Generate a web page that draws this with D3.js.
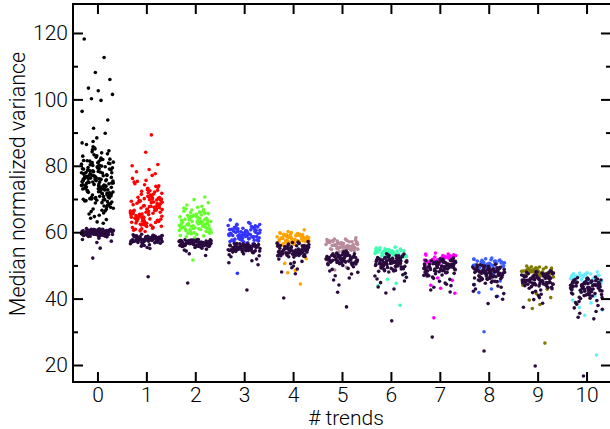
<!DOCTYPE html>
<html>
<head>
<meta charset="utf-8">
<script src="https://cdn.jsdelivr.net/npm/d3@7/dist/d3.min.js"></script>
<style>
  body { margin: 0; background: #fff; }
</style>
</head>
<body>
<div id="chart"></div>
<script>
// categories (# trends) and their colours
const trends = [0, 1, 2, 3, 4, 5, 6, 7, 8, 9, 10];
const trendColors = ["#000000", "#ff0000", "#66ff2e", "#3434ff", "#ffa200", "#b88a9c",
    "#3dffb0", "#ff00ff", "#3c5dff", "#7f7a00", "#66ecff"];
const baseColor = "#2a0b3e";

const yMajorTicks = [20, 40, 60, 80, 100, 120];
const yMinorTicks = [30, 50, 70, 90, 110];

// horizontal spread of each point inside its column (-1..1)
const jitter = [-0.82, 0.41, -0.13, 0.77, -0.56, 0.05, 0.93, -0.37, 0.22, -0.95, 0.64, -0.24, 0.48,
    -0.68, 0.11, 0.86, -0.47, 0.31, -0.04, 0.71, -0.88, 0.17, -0.61, 0.55, -0.29, 0.98, -0.15, 0.36,
    -0.76, 0.02, 0.67, -0.42, 0.26, -0.91, 0.59, -0.08, 0.81, -0.52, 0.14, -0.33, 0.45, -0.71, 0.89,
    -0.19, 0.07, -0.99, 0.38, -0.58, 0.74, -0.27, 0.52, -0.86, 0.28, -0.45, 0.96, -0.11, 0.62, -0.64,
    0.09, -0.39, 0.84, -0.21, 0.33, -0.79, 0.57, -0.02, 0.19, -0.93, 0.69, -0.31];

// coloured points (fit with n trends)
const trend0 = [118.2, 112.6, 108.1, 106.0, 103.4, 102.6, 101.5, 100.2, 99.7, 96.4, 93.8, 91.3, 89.8,
    86.4, 79.2, 73.5, 70.1, 77.8, 83.0, 68.4, 75.6, 81.7, 72.2, 66.9, 78.5, 74.8, 85.1, 69.7, 76.3, 80.9,
    71.4, 64.2, 79.9, 73.0, 77.1, 82.6, 67.5, 75.0, 70.8, 84.2, 72.9, 78.0, 69.1, 76.9, 81.2, 74.1, 65.8,
    79.5, 71.9, 87.3, 73.8, 77.5, 68.9, 80.3, 75.4, 70.4, 83.6, 72.6, 76.1, 66.2, 78.8, 74.4, 81.9, 69.4,
    77.3, 63.1, 75.9, 79.1, 71.1, 84.8, 73.2, 67.9, 76.7, 80.6, 72.0, 78.3, 74.9, 70.0, 82.3, 75.2, 68.1,
    77.0, 79.7, 73.6, 65.1, 76.5, 81.4, 71.6, 88.4, 74.6, 69.9, 78.1, 72.4, 75.8, 80.1, 67.2, 76.0, 62.7,
    73.3, 79.3, 70.6, 77.6, 83.9, 74.3, 71.8, 76.4, 68.6, 78.6, 75.1, 81.0, 72.7, 69.5, 77.9, 64.7, 74.0,
    80.5, 73.9, 76.8, 70.3, 85.7, 75.5, 79.0, 66.6,
    78.4, 72.1, 75.7, 69.2, 81.5, 74.5, 77.2, 70.9, 83.3, 73.4, 76.6, 67.7, 79.6, 72.5, 75.3, 80.8, 71.2,
    77.7, 74.2, 68.8, 82.0, 76.2, 73.1, 79.4, 70.5, 75.9, 86.9, 72.8, 78.2, 66.4, 74.7, 80.2, 71.5, 77.4,
    73.7, 69.6, 84.5, 76.0, 72.3, 78.7, 63.8, 75.1, 81.1, 70.2, 77.0, 74.0, 79.8, 68.3, 76.3, 73.0, 82.9,
    71.3, 75.5, 78.9, 65.5, 73.6, 80.4, 69.8, 76.8, 74.8, 85.4, 72.2, 77.9, 70.7, 75.2, 79.0, 67.0, 73.9,
    81.6, 71.7];
const trend1 = [89.3, 84.1, 80.4, 80.0, 78.9, 78.2, 77.6, 72.3, 66.8, 63.5, 69.9, 75.1, 61.7, 68.2, 64.9,
    71.0, 66.1, 73.8, 62.6, 67.4, 70.5, 65.3, 60.8, 69.1, 74.6, 63.9, 67.9, 72.8, 65.8, 61.2, 68.7, 70.2,
    64.3, 66.5, 76.2, 62.1, 69.5, 71.7, 63.1, 67.1, 65.0, 73.2, 60.4, 68.4, 64.6, 70.9, 66.3, 62.9, 75.6,
    67.7, 69.3, 63.6, 71.4, 65.6, 61.5, 68.0, 74.0, 64.1, 66.9, 70.0, 62.4, 72.5, 65.2, 69.7, 63.3, 67.5,
    60.9, 71.9, 66.0, 64.7, 68.9, 62.0, 73.5, 65.9, 70.7, 63.8, 67.2, 61.0, 69.0, 64.4, 77.1, 66.6, 62.7,
    68.6, 65.4, 71.2, 63.0, 67.0, 60.2, 70.4, 64.0, 66.2,
    67.3, 71.5, 64.2, 69.6, 62.3, 73.0, 66.4, 70.3, 63.4, 68.1, 65.5, 72.1, 61.4, 67.8, 69.2, 64.8, 74.3,
    66.7, 62.8, 70.8, 65.1, 68.5, 63.7, 71.1, 60.6, 67.6, 66.0, 69.8, 64.5, 72.6, 62.2, 68.3, 65.7, 70.1,
    63.2, 75.3, 66.9, 61.8, 69.4, 64.0];
const trend2 = [70.6, 69.8, 68.9, 68.2, 67.5, 64.1, 61.8, 66.3, 59.7, 63.2, 65.4, 60.5, 62.7, 67.0, 61.1,
    64.8, 58.9, 63.6, 66.0, 62.2, 60.1, 65.1, 61.5, 63.9, 59.3, 64.5, 62.0, 66.7, 60.8, 63.0, 65.7, 61.3,
    62.5, 59.0, 64.2, 60.3, 63.4, 67.8, 61.9, 62.9, 58.6, 65.3, 60.6, 63.7, 61.0, 64.6, 62.4, 59.5, 66.4,
    61.6, 63.1, 60.0, 65.0, 62.8, 58.3, 64.0, 61.2, 63.5, 60.9, 62.1, 65.9, 59.8, 51.6,
    63.3, 61.4, 64.9, 60.2, 62.6, 66.1, 61.7, 63.8, 59.9, 65.6, 62.3, 64.4, 60.7, 63.0, 67.3, 61.0, 64.7,
    59.4, 62.0, 65.2, 60.4, 63.6, 61.8, 66.8, 62.5, 64.1, 59.6, 63.2, 61.1, 65.8];
const trend3 = [63.7, 62.9, 62.4, 59.8, 58.2, 61.0, 57.3, 60.4, 58.9, 61.6, 57.8, 59.3, 60.9, 58.5, 57.0,
    60.1, 59.0, 61.9, 58.0, 59.6, 60.7, 57.5, 58.7, 61.3, 59.9, 58.3, 60.2, 56.8, 59.4, 61.1, 57.9, 58.6,
    60.5, 59.1, 57.4, 62.1, 58.1, 59.7, 60.0, 57.2, 58.8, 61.4, 56.5, 59.2, 60.6, 58.4, 62.6, 57.6, 59.5,
    60.3, 47.6,
    59.5, 60.8, 58.6, 61.2, 57.7, 59.9, 60.4, 58.2, 61.7, 59.0, 57.4, 60.1, 58.9, 62.0, 59.3, 57.9, 60.6,
    58.5, 61.5, 59.7, 58.0, 60.9, 62.3, 59.1, 57.6, 60.3, 58.7, 61.0, 59.6, 58.3];
const trend4 = [60.7, 60.2, 59.8, 59.4, 58.5, 57.2, 59.0, 56.4, 58.0, 57.6, 59.3, 56.9, 58.3, 57.0, 58.8,
    56.1, 57.8, 58.6, 57.4, 59.1, 56.7, 58.2, 57.1, 58.9, 56.5, 57.9, 58.4, 57.3, 59.5, 56.8, 58.1, 57.7,
    55.9, 58.7, 57.5, 56.3, 59.2, 57.9, 52.0, 50.6, 48.5, 47.8, 44.4,
    58.3, 57.5, 59.0, 56.9, 58.6, 57.2, 59.4, 58.0, 56.6, 58.8, 57.7, 59.6, 57.0, 58.4, 59.9, 57.4, 58.1,
    56.4, 59.2, 57.8, 58.7, 57.1, 59.7, 58.2, 57.6];
const trend5 = [58.3, 57.9, 57.5, 56.4, 55.2, 57.0, 54.6, 56.0, 55.7, 57.3, 54.9, 56.5, 55.1, 56.9, 54.3,
    55.9, 56.2, 55.5, 57.2, 54.7, 56.7, 55.3, 56.1, 54.5, 55.8, 57.1, 55.0, 56.6, 54.1, 55.6, 56.3, 53.8,
    57.4, 55.4, 56.8, 54.8, 51.0, 49.4, 48.6,
    56.3, 55.4, 57.1, 54.8, 56.6, 55.9, 57.6, 55.2, 56.0, 57.4, 54.6, 56.8, 55.6, 57.8, 56.2, 55.0, 57.0,
    55.8, 56.5, 54.4, 57.3, 55.5, 56.9, 56.1, 57.9];
const trend6 = [55.5, 55.2, 54.9, 53.8, 54.4, 53.1, 54.1, 52.7, 53.5, 54.6, 53.0, 54.0, 52.4, 53.6, 54.3,
    52.9, 53.3, 54.7, 52.2, 53.9, 53.2, 54.2, 52.6, 53.7, 54.5, 51.8, 53.4, 48.6, 47.3, 45.8, 44.6, 43.9, 38.0,
    54.0, 53.4, 54.6, 52.8, 53.9, 54.3, 53.1, 54.8, 52.5, 53.7, 54.4, 53.0, 55.0, 53.6, 54.1, 52.3, 54.7,
    53.3, 55.3, 53.8];
const trend7 = [53.7, 53.4, 53.1, 52.4, 51.8, 52.9, 51.2, 52.6, 50.9, 52.1, 51.5, 52.8, 50.6, 52.3, 51.0,
    52.0, 51.7, 53.0, 50.3, 51.4, 52.5, 49.1, 47.8, 46.2, 45.5, 44.0, 43.1, 41.6, 34.2,
    52.3, 51.6, 52.9, 51.1, 52.6, 50.8, 52.2, 53.2, 51.4, 52.7, 50.5, 51.9, 53.4, 52.0, 51.3, 52.8, 50.9,
    53.0, 51.7, 52.4];
const trend8 = [52.2, 51.9, 51.6, 50.9, 50.2, 51.3, 49.6, 50.7, 49.2, 50.5, 49.9, 51.1, 48.8, 50.0, 51.4,
    49.4, 50.6, 48.5, 50.3, 49.7, 51.0, 47.5, 46.1, 45.3, 44.2, 42.9, 41.8, 40.7, 30.0,
    50.8, 50.1, 51.2, 49.5, 50.6, 49.1, 51.5, 50.0, 51.8, 48.9, 50.4, 51.0, 49.8, 51.7, 50.3, 49.3, 51.3,
    50.7, 52.0, 49.6];
const trend9 = [49.8, 49.5, 49.2, 48.6, 47.9, 49.0, 47.3, 48.3, 46.8, 48.8, 47.6, 48.1, 46.5, 47.8, 48.9,
    47.1, 48.4, 46.2, 48.0, 47.4, 44.0, 42.8, 41.5, 40.3, 39.6, 38.2, 37.0, 26.6,
    48.5, 47.8, 48.9, 47.2, 48.2, 46.9, 49.1, 47.5, 48.7, 49.4, 47.0, 48.0, 48.6, 47.7, 49.3, 46.6, 48.3,
    47.9, 49.6, 48.8];
const trend10 = [48.0, 47.7, 47.4, 46.9, 46.2, 47.2, 45.6, 46.6, 45.0, 46.8, 45.9, 46.4, 44.6, 47.0, 45.3,
    46.0, 44.2, 46.5, 43.6, 42.0, 40.8, 39.5, 38.7, 37.3, 36.6, 35.0, 23.0,
    46.8, 46.1, 47.1, 45.5, 46.5, 45.1, 47.3, 46.0, 47.6, 44.8, 46.3, 46.9, 45.7, 47.5, 46.2, 45.0, 47.0,
    46.6, 47.8, 45.4];

// dark points (baseline for the same runs)
const base0 = [60.2, 59.6, 60.8, 59.1, 60.5, 59.9, 60.0, 59.4, 60.7, 59.7, 60.3, 58.9, 60.1, 59.5, 60.6,
    59.8, 60.4, 59.2, 60.9, 59.6, 60.0, 59.3, 60.2, 58.7, 60.5, 59.9, 61.1, 59.5, 60.3, 59.0, 60.6, 59.8,
    60.1, 58.6, 60.4, 59.7, 60.8, 59.4, 60.0, 59.1, 60.2, 58.2, 59.6, 60.5, 57.8, 59.9, 60.7, 59.3, 60.3,
    58.8, 57.3, 56.9, 55.2, 52.2,
    59.8, 60.4, 59.3, 60.9, 59.7, 60.1, 59.5, 60.6, 59.0, 60.3, 59.9, 60.7, 59.2, 60.0, 59.6, 60.5, 58.9,
    60.2, 59.4, 61.0, 59.8, 60.4, 59.1, 60.1, 59.7, 60.8, 59.3, 60.0, 59.5, 60.6, 59.9, 60.3, 58.8, 60.2,
    59.6, 60.9, 59.4, 60.1, 59.0, 60.5];
const base1 = [58.3, 57.6, 58.9, 57.2, 58.6, 57.9, 58.1, 57.4, 59.0, 57.7, 58.4, 56.9, 58.2, 57.5, 58.7,
    57.8, 58.5, 57.1, 59.2, 57.6, 58.0, 57.3, 58.8, 56.7, 58.6, 57.9, 59.4, 57.5, 58.3, 57.0, 58.5, 57.8,
    58.1, 56.5, 58.4, 57.7, 58.9, 57.4, 58.0, 57.2, 56.2, 55.8, 56.0, 55.4, 55.1, 56.4, 46.6,
    58.2, 57.5, 58.8, 57.1, 58.5, 57.8, 58.0, 57.3, 58.9, 57.6, 58.3, 56.8, 58.1, 57.4, 58.6, 57.7, 58.4,
    57.0, 59.1, 57.5, 57.9, 57.2, 58.7, 57.6, 58.2, 57.8, 59.0, 57.3, 58.5, 57.9, 56.9, 58.0, 57.4, 58.6,
    57.1, 58.3, 57.7, 58.8, 57.5, 58.1];
const base2 = [57.0, 56.3, 57.5, 55.9, 56.8, 56.5, 57.3, 56.0, 57.1, 56.6, 57.7, 55.7, 56.9, 56.2, 57.4,
    56.4, 57.2, 55.8, 56.7, 57.8, 56.1, 57.0, 56.5, 57.6, 55.6, 56.9, 56.3, 57.4, 56.0, 57.1, 56.6, 55.9,
    57.3, 56.2, 57.5, 56.8, 55.4, 54.9, 55.2, 54.3, 53.5, 53.0, 54.6, 44.7,
    56.9, 56.2, 57.4, 55.8, 56.7, 56.4, 57.2, 55.9, 57.0, 56.5, 57.6, 55.6, 56.8, 56.1, 57.3, 56.3, 57.1,
    55.7, 56.6, 57.7, 56.0, 56.9, 56.4, 57.5, 55.8, 56.8, 56.2, 57.3, 56.1, 57.0, 56.5, 55.9, 57.2, 56.3,
    57.4, 56.7, 56.0, 57.1, 56.6, 57.8];
const base3 = [55.6, 55.0, 56.1, 54.6, 55.8, 55.3, 56.4, 54.8, 55.5, 56.0, 54.4, 55.2, 55.9, 54.9, 56.3,
    55.4, 54.7, 55.7, 56.6, 55.1, 54.5, 55.6, 56.2, 54.2, 55.0, 55.8, 54.6, 56.5, 55.3, 54.1, 55.9, 55.5,
    53.8, 53.2, 52.6, 51.9, 52.9, 50.8, 51.4, 50.2, 53.5, 42.6,
    55.5, 54.9, 56.0, 54.5, 55.7, 55.2, 56.3, 54.7, 55.4, 55.9, 54.3, 55.1, 55.8, 54.8, 56.2, 55.3, 54.6,
    55.6, 56.5, 55.0, 54.4, 55.5, 56.1, 54.1, 54.9, 55.7, 54.5, 56.4, 55.2, 54.0, 55.8, 55.4, 53.9, 56.6,
    54.2, 55.1, 55.9, 54.7, 56.0, 55.3];
const base4 = [54.8, 53.9, 55.6, 53.2, 55.0, 54.4, 56.1, 53.6, 54.9, 55.4, 52.9, 54.2, 55.8, 53.4, 54.6,
    56.4, 53.0, 55.2, 54.0, 55.7, 53.7, 54.7, 56.7, 52.7, 54.3, 55.5, 53.5, 54.9, 56.0, 53.1, 55.3, 54.5,
    52.5, 55.9, 53.8, 54.1, 57.0, 51.9, 51.2, 50.5, 49.8, 48.9, 49.3, 47.5, 48.0, 50.9, 40.2,
    54.7, 53.8, 55.5, 53.1, 54.9, 54.3, 56.0, 53.5, 54.8, 55.3, 52.8, 54.1, 55.7, 53.3, 54.5, 56.3, 52.9,
    55.1, 53.9, 55.6, 53.6, 54.6, 56.6, 52.6, 54.2, 55.4, 53.4, 54.8, 55.9, 53.0, 55.2, 54.4, 57.2, 55.8,
    53.7, 54.0, 56.9, 53.2, 56.2, 54.5];
const base5 = [52.4, 51.6, 53.2, 50.9, 52.8, 51.9, 53.6, 51.2, 52.1, 53.0, 50.5, 51.8, 52.6, 51.4, 53.4,
    50.7, 52.3, 51.0, 53.8, 51.5, 52.0, 52.9, 50.3, 51.7, 53.1, 50.8, 52.5, 51.3, 53.5, 52.2, 50.1, 51.1,
    52.7, 49.6, 48.8, 47.9, 48.3, 46.9, 47.4, 45.6, 46.2, 44.1, 49.1, 41.9, 37.5,
    52.3, 51.5, 53.1, 50.8, 52.7, 51.8, 53.5, 51.1, 52.0, 52.9, 50.4, 51.7, 52.5, 51.3, 53.3, 50.6, 52.2,
    50.9, 53.7, 51.4, 51.9, 52.8, 50.2, 51.6, 53.0, 50.7, 52.4, 51.2, 53.4, 52.1, 50.0, 51.0, 52.6, 54.1,
    53.9, 51.8, 52.3, 50.5, 53.2, 54.3];
const base6 = [51.3, 50.4, 52.2, 49.6, 51.8, 50.9, 52.7, 49.2, 51.0, 52.0, 48.8, 50.6, 51.6, 49.9, 52.5,
    50.1, 51.4, 48.5, 53.0, 50.7, 49.4, 51.9, 50.3, 52.4, 49.0, 51.1, 50.0, 52.9, 49.7, 51.5, 48.3, 50.8,
    52.1, 49.3, 51.2, 53.4, 50.5, 47.6, 46.8, 47.2, 45.9, 46.4, 44.8, 45.3, 43.5, 42.9, 41.7, 48.0, 33.3,
    51.2, 50.3, 52.1, 49.5, 51.7, 50.8, 52.6, 49.1, 50.9, 51.9, 48.7, 50.5, 51.5, 49.8, 52.4, 50.0, 51.3,
    48.4, 52.9, 50.6, 49.3, 51.8, 50.2, 52.3, 48.9, 51.0, 49.9, 52.8, 49.6, 51.4, 48.2, 50.7, 52.0, 49.2,
    51.1, 53.3, 50.4, 53.5, 49.7, 51.6];
const base7 = [50.1, 49.3, 51.0, 48.4, 50.6, 49.7, 51.5, 48.0, 49.9, 50.8, 47.6, 49.1, 50.3, 48.7, 51.2,
    49.5, 50.0, 47.3, 51.8, 48.9, 50.5, 49.0, 51.3, 48.2, 49.8, 50.9, 47.9, 50.2, 49.4, 52.0, 48.5, 50.7,
    47.1, 49.6, 51.6, 48.8, 50.4, 46.5, 45.8, 46.1, 44.7, 45.2, 43.9, 44.3, 42.6, 43.4, 42.0, 46.9, 28.4,
    50.0, 49.2, 50.9, 48.3, 50.5, 49.6, 51.4, 47.9, 49.8, 50.7, 47.5, 49.0, 50.2, 48.6, 51.1, 49.4, 49.9,
    47.2, 51.7, 48.8, 50.4, 48.9, 51.2, 48.1, 49.7, 50.8, 47.8, 50.1, 49.3, 51.9, 48.4, 50.6, 47.0, 49.5,
    51.5, 48.7, 50.3, 52.2, 46.8, 51.0];
const base8 = [48.2, 47.3, 49.1, 46.5, 48.7, 47.8, 49.6, 46.1, 48.0, 48.9, 45.7, 47.1, 48.4, 46.8, 49.3,
    47.6, 48.1, 45.4, 49.9, 47.0, 48.6, 46.3, 49.4, 46.9, 47.9, 48.8, 45.9, 47.4, 50.2, 46.6, 48.3, 45.2,
    47.7, 49.0, 46.0, 48.5, 44.6, 43.8, 44.2, 42.9, 43.4, 41.5, 42.2, 40.6, 39.8, 38.5, 44.9, 24.2,
    48.1, 47.2, 49.0, 46.4, 48.6, 47.7, 49.5, 46.0, 47.9, 48.8, 45.6, 47.0, 48.3, 46.7, 49.2, 47.5, 48.0,
    45.3, 49.8, 46.9, 48.5, 46.2, 49.3, 46.8, 47.8, 48.7, 45.8, 47.3, 50.1, 46.5, 48.2, 45.1, 47.6, 48.9,
    45.9, 48.4, 49.7, 47.4, 50.3, 46.6];
const base9 = [46.3, 45.4, 47.2, 44.6, 46.8, 45.9, 47.6, 44.1, 46.0, 47.0, 43.7, 45.2, 46.5, 44.9, 47.4,
    45.6, 46.1, 43.4, 48.0, 45.1, 46.7, 44.4, 47.8, 45.0, 46.2, 44.7, 43.0, 47.1, 45.8, 46.9, 44.3, 45.5,
    48.2, 43.9, 42.6, 41.8, 42.2, 40.9, 41.3, 39.7, 40.3, 38.6, 37.4, 44.8, 19.7,
    46.2, 45.3, 47.1, 44.5, 46.7, 45.8, 47.5, 44.0, 45.9, 46.9, 43.6, 45.1, 46.4, 44.8, 47.3, 45.5, 46.0,
    43.3, 47.9, 45.0, 46.6, 44.3, 47.7, 44.9, 46.1, 44.6, 43.1, 47.0, 45.7, 46.8, 44.2, 45.4, 48.1, 43.8,
    46.3, 47.4, 44.7, 45.6, 48.3, 44.4];
const base10 = [44.0, 43.1, 45.0, 42.3, 44.6, 43.6, 45.5, 41.8, 43.8, 44.8, 41.3, 43.0, 44.3, 42.6, 45.2,
    43.4, 44.1, 40.9, 46.0, 42.8, 44.5, 42.0, 45.7, 43.3, 44.9, 41.5, 40.4, 43.9, 42.5, 45.3, 41.1, 44.2,
    42.9, 46.3, 40.0, 39.4, 38.8, 39.1, 37.9, 38.3, 36.8, 37.2, 35.6, 36.1, 34.4, 33.9, 16.7,
    43.9, 43.0, 44.9, 42.2, 44.5, 43.5, 45.4, 41.7, 43.7, 44.7, 41.2, 42.9, 44.2, 42.5, 45.1, 43.3, 44.0,
    40.8, 45.9, 42.7, 44.4, 41.9, 45.6, 43.2, 44.8, 41.4, 40.3, 43.8, 42.4, 45.2, 41.0, 44.1, 42.8, 46.2,
    40.1, 43.6, 45.8, 42.1, 44.6, 46.5];

const trendValues = [trend0, trend1, trend2, trend3, trend4, trend5, trend6, trend7, trend8, trend9, trend10];
const baseValues = [base0, base1, base2, base3, base4, base5, base6, base7, base8, base9, base10];

function jitterPlot(htmlId) {
    const width = 610;
    const height = 429;
    const marginTop = 4;
    const marginRight = -1;
    const marginBottom = 47;
    const marginLeft = 73;
    const font = "Roboto, 'Liberation Sans', sans-serif";

    const x = d3.scaleLinear()
        .domain([-0.5, 10.5])
        .range([marginLeft, width - marginRight]);

    const y = d3.scaleLinear()
        .domain([14.88, 128.73])
        .range([height - marginBottom, marginTop]);

    const svg = d3.select(htmlId).append("svg")
        .attr("width", width)
        .attr("height", height)
        .attr("viewBox", [0, 0, width, height])
        .style("display", "block");

    // build the point list: coloured points first, dark points drawn on top
    const points = [];
    trends.forEach(t => {
        trendValues[t].forEach((v, i) => points.push({
            t, v, color: trendColors[t], j: jitter[(i + t * 17) % jitter.length]
        }));
    });
    trends.forEach(t => {
        baseValues[t].forEach((v, i) => points.push({
            t, v, color: baseColor, j: jitter[(i * 3 + t * 11 + 5) % jitter.length]
        }));
    });

    svg.append("g")
        .selectAll("circle")
        .data(points)
        .join("circle")
        .attr("cx", d => x(d.t + d.j * 0.33))
        .attr("cy", d => y(d.v))
        .attr("r", 1.8)
        .attr("fill", d => d.color);

    // axes (ticks pointing inwards on all four sides)
    const styleAxis = g => {
        g.select(".domain").remove();
        g.selectAll(".tick line").attr("stroke", "#000").attr("stroke-width", 2);
        g.selectAll("text")
            .attr("fill", "#000")
            .style("font", `300 21px ${font}`);
    };

    svg.append("g")
        .attr("transform", `translate(0,${height - marginBottom})`)
        .call(d3.axisBottom(x).tickValues(trends).tickSize(-10).tickPadding(5))
        .call(styleAxis);

    svg.append("g")
        .attr("transform", `translate(0,${marginTop})`)
        .call(d3.axisTop(x).tickValues(trends).tickSize(-10).tickFormat(""))
        .call(styleAxis);

    svg.append("g")
        .attr("transform", `translate(${marginLeft},0)`)
        .call(d3.axisLeft(y).tickValues(yMajorTicks).tickSize(-10).tickPadding(5))
        .call(styleAxis);

    svg.append("g")
        .attr("transform", `translate(${marginLeft},0)`)
        .call(d3.axisLeft(y).tickValues(yMinorTicks).tickSize(-5).tickFormat(""))
        .call(styleAxis);

    svg.append("g")
        .attr("transform", `translate(${width - marginRight},0)`)
        .call(d3.axisRight(y).tickValues(yMajorTicks).tickSize(-10).tickFormat(""))
        .call(styleAxis);

    svg.append("g")
        .attr("transform", `translate(${width - marginRight},0)`)
        .call(d3.axisRight(y).tickValues(yMinorTicks).tickSize(-5).tickFormat(""))
        .call(styleAxis);

    // frame
    svg.append("rect")
        .attr("x", marginLeft)
        .attr("y", marginTop)
        .attr("width", width - marginRight - marginLeft)
        .attr("height", height - marginBottom - marginTop)
        .attr("fill", "none")
        .attr("stroke", "#000")
        .attr("stroke-width", 2);

    // axis labels
    svg.append("text")
        .attr("x", 346)
        .attr("y", 425)
        .attr("text-anchor", "middle")
        .style("font", `300 21px ${font}`)
        .text("# trends");

    svg.append("text")
        .attr("transform", "rotate(-90)")
        .attr("x", -184)
        .attr("y", 25)
        .attr("text-anchor", "middle")
        .style("font", `300 21.5px ${font}`)
        .text("Median normalized variance");
}

jitterPlot("#chart");
</script>
</body>
</html>
